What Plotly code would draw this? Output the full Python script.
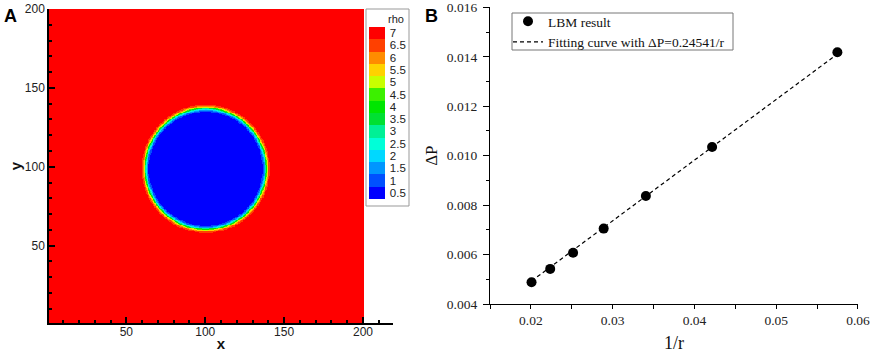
import numpy as np
import plotly.graph_objects as go

# ---------------- Panel A data (density field of a bubble) ----------------
grid_n = 200
bubble_center = (100.0, 99.0)
bubble_radius = 38.3
interface_width = 3.0
rho_outer = 7.05
rho_inner = 0.40

rho_levels = [0.5, 1, 1.5, 2, 2.5, 3, 3.5, 4, 4.5, 5, 5.5, 6, 6.5, 7]
rho_labels = ["0.5", "1", "1.5", "2", "2.5", "3", "3.5", "4", "4.5", "5", "5.5", "6", "6.5", "7"]
rho_colors = ["#0000ff", "#0050ff", "#0096ff", "#00d8ff", "#00ffd8", "#00f096",
              "#00e032", "#00e600", "#3cf000", "#c8ff00", "#ffd200", "#ff8c00",
              "#ff4000", "#ff0000"]

# ---------------- Panel B data ----------------
inv_r = [0.02008, 0.02236, 0.02516, 0.02890, 0.03406, 0.04216, 0.05748]
delta_p = [0.00488, 0.00542, 0.00607, 0.00705, 0.00837, 0.01035, 0.01418]
fit_x = [0.02008, 0.05748]
fit_y = [0.00493, 0.01411]

W, H = 872, 355

def px(xp):
    return xp / W

def py(yp):
    return 1 - yp / H

# field
xs = np.arange(1, grid_n + 1)
ys = np.arange(1, grid_n + 1)
XX, YY = np.meshgrid(xs, ys)
dist = np.sqrt((XX - bubble_center[0]) ** 2 + (YY - bubble_center[1]) ** 2)
rho = (rho_outer + rho_inner) / 2 + (rho_outer - rho_inner) / 2 * np.tanh(2 * (dist - bubble_radius) / interface_width)

nb = len(rho_levels)
colorscale = []
for i, c in enumerate(rho_colors):
    colorscale.append([i / nb, c])
    colorscale.append([(i + 1) / nb, c])

fig = go.Figure()

cb_top, cb_bot = 27, 199
fig.add_trace(go.Heatmap(
    x=xs, y=ys, z=rho,
    zmin=0.25, zmax=7.25,
    colorscale=colorscale,
    zsmooth="best",
    xaxis="x", yaxis="y",
    colorbar=dict(
        x=px(369), xanchor="left", xpad=0,
        y=py(cb_top), yanchor="top", ypad=0,
        len=cb_bot - cb_top, lenmode="pixels",
        thickness=16, thicknessmode="pixels",
        outlinewidth=0,
        tickvals=rho_levels, ticktext=rho_labels,
        ticks="outside", ticklen=3, tickcolor="rgba(0,0,0,0)",
        tickfont=dict(family="Liberation Sans", size=11.5, color="#222"),
    ),
    hoverinfo="skip",
))

fig.add_trace(go.Scatter(
    x=inv_r, y=delta_p, mode="markers",
    marker=dict(color="black", size=10),
    name="LBM result",
    xaxis="x2", yaxis="y2",
))
fig.add_trace(go.Scatter(
    x=fit_x, y=fit_y, mode="lines",
    line=dict(color="black", width=1.2, dash="4px,3px"),
    name="Fitting curve with ΔP=0.24541/r",
    xaxis="x2", yaxis="y2",
))

sans = dict(family="Liberation Sans", size=12, color="#222")
serif = dict(family="Liberation Serif", size=13.5, color="#222")

fig.update_layout(
    template="none",
    width=W, height=H,
    margin=dict(l=0, r=0, t=0, b=0, autoexpand=False),
    paper_bgcolor="white", plot_bgcolor="white",
    showlegend=True,
    legend=dict(
        x=px(508), y=py(6), xanchor="left", yanchor="top",
        borderwidth=0, bgcolor="rgba(0,0,0,0)",
        font=dict(family="Liberation Serif", size=13.5, color="#111"),
        tracegroupgap=0, itemwidth=30,
    ),
    xaxis=dict(
        domain=[px(49), px(393)], range=[1, 219], automargin=False,
        showgrid=False, zeroline=False,
        showline=True, linecolor="black", linewidth=1.5,
        ticks="inside", ticklen=6, tickwidth=1.5, tickcolor="black",
        tick0=0, dtick=50,
        minor=dict(dtick=10, ticks="inside", ticklen=3, tickcolor="black"),
        tickfont=sans, ticklabelstandoff=-3,
        title=dict(text="<b>x</b>", font=dict(family="Liberation Sans", size=15, color="#111"), standoff=0),
        anchor="y",
    ),
    yaxis=dict(
        domain=[py(323), py(9)], range=[1, 200.001], automargin=False,
        showgrid=False, zeroline=False,
        showline=True, linecolor="black", linewidth=1.5,
        ticks="inside", ticklen=6, tickwidth=1.5, tickcolor="black",
        tick0=0, dtick=50,
        minor=dict(dtick=10, ticks="inside", ticklen=3, tickcolor="black"),
        tickfont=sans,
        title=dict(text="<b>y</b>", font=dict(family="Liberation Sans", size=15, color="#111"), standoff=0),
        anchor="x",
    ),
    xaxis2=dict(
        domain=[px(490), px(858)], range=[0.015, 0.060001], automargin=False,
        showgrid=False, zeroline=False,
        showline=True, linecolor="black", linewidth=1.2,
        ticks="outside", ticklen=4, tickcolor="black",
        tick0=0, dtick=0.01, tickformat=".2f",
        minor=dict(dtick=0.005, ticks="outside", ticklen=4, tickcolor="black"),
        tickfont=serif,
        title=dict(text="1/r", font=dict(family="Liberation Serif", size=18, color="#111"), standoff=9),
        anchor="y2",
    ),
    yaxis2=dict(
        domain=[py(304), py(7.3)], range=[0.004, 0.016001], automargin=False,
        showgrid=False, zeroline=False,
        showline=True, linecolor="black", linewidth=1.2,
        ticks="outside", ticklen=6, tickcolor="black",
        tick0=0, dtick=0.002, tickformat=".3f",
        minor=dict(dtick=0.001, ticks="outside", ticklen=3, tickcolor="black"),
        tickfont=serif, ticklabelstandoff=3,
        title=dict(text="ΔP", font=dict(family="Liberation Serif", size=17, color="#111"), standoff=4),
        anchor="x2",
    ),
    shapes=[
        dict(type="rect", xref="paper", yref="paper",
             x0=px(366), x1=px(409), y0=py(206), y1=py(9),
             line=dict(color="#999", width=1), fillcolor="rgba(0,0,0,0)", layer="below"),
        dict(type="rect", xref="paper", yref="paper",
             x0=px(512), x1=px(733), y0=py(50), y1=py(13),
             line=dict(color="#777", width=1), fillcolor="rgba(0,0,0,0)", layer="above"),
    ],
    annotations=[
        dict(text="<b>A</b>", x=px(2), y=py(4), xref="paper", yref="paper",
             xanchor="left", yanchor="top", showarrow=False,
             font=dict(family="Liberation Sans", size=18, color="black")),
        dict(text="<b>B</b>", x=px(423), y=py(4), xref="paper", yref="paper",
             xanchor="left", yanchor="top", showarrow=False,
             font=dict(family="Liberation Sans", size=18, color="black")),
        dict(text="rho", x=px(406), y=py(11), xref="paper", yref="paper",
             xanchor="right", yanchor="top", showarrow=False,
             font=dict(family="Liberation Sans", size=11, color="#222")),
    ],
)

fig.write_html("out.html",
               config={"displayModeBar": False},
               post_script="document.body.style.margin='0px';document.body.style.overflow='hidden';")
